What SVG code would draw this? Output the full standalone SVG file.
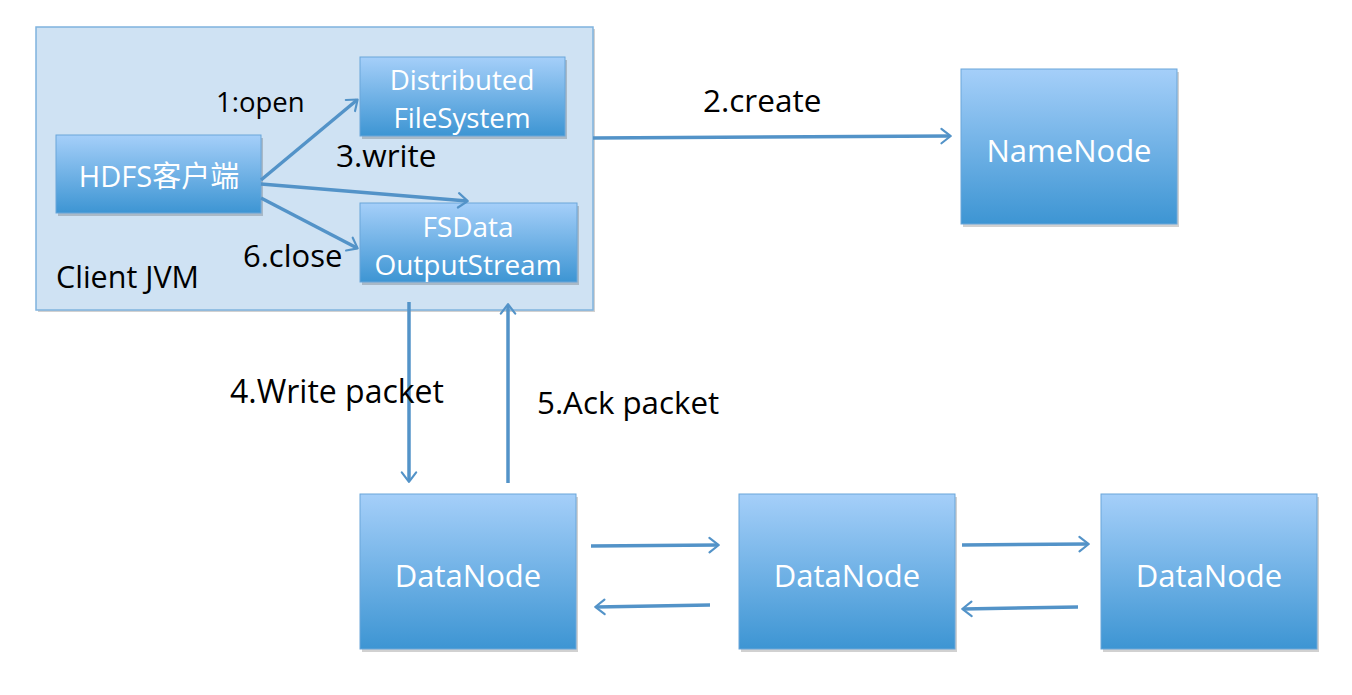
<svg xmlns="http://www.w3.org/2000/svg" width="1352" height="695" viewBox="0 0 1352 695">
<style>
.node{fill:url(#g);stroke:#6aa6d9;stroke-width:1}
.shadow{fill:#000;opacity:0.18}
.nt{font-family:"Open Sans","Noto Sans CJK SC",sans-serif;fill:#fff;text-anchor:middle}
.lbl{font-family:"Open Sans",sans-serif;fill:#000}
.conn line{stroke:#5393c8;stroke-width:3.5;marker-end:url(#ah)}
</style>
<defs>
<linearGradient id="g" x1="0" y1="0" x2="0" y2="1">
<stop offset="0" stop-color="#a5cff9"/>
<stop offset="1" stop-color="#3d95d3"/>
</linearGradient>
<marker id="ah" viewBox="0 0 10 10" refX="9" refY="5" markerWidth="6" markerHeight="6" markerUnits="userSpaceOnUse" orient="auto" overflow="visible">
<path d="M3,0 L9.5,5 L3,10" fill="none" stroke="#5393c8" stroke-width="1.5" stroke-linecap="round" stroke-linejoin="round" transform="scale(2.4) translate(-5.2,-2.9)"/>
</marker>
</defs>
<rect width="1352" height="695" fill="#fff"/>
<g id="client-jvm">
<rect x="38" y="29" width="557" height="283" class="shadow" opacity="0.12"/>
<rect x="36" y="27" width="557" height="283" fill="#cfe2f3" stroke="#7fb3de" stroke-width="1.5"/>
<text x="56" y="288" class="lbl" font-size="30.5">Client JVM</text>
</g>
<g id="hdfs-client">
<rect x="58" y="138" width="205" height="78" class="shadow"/>
<rect x="56" y="135" width="205" height="78" class="node"/>
<text x="159" y="187" class="nt" font-size="29">HDFS客户端</text>
</g>
<g id="dfs">
<rect x="362" y="60" width="205" height="79" class="shadow"/>
<rect x="360" y="57" width="205" height="79" class="node"/>
<text x="462" y="90" class="nt" font-size="27.7">Distributed</text>
<text x="462" y="128" class="nt" font-size="27.7">FileSystem</text>
</g>
<g id="fsdos">
<rect x="362" y="206" width="217" height="79" class="shadow"/>
<rect x="360" y="203" width="217" height="79" class="node"/>
<text x="468" y="237" class="nt" font-size="28">FSData</text>
<text x="468" y="275" class="nt" font-size="28">OutputStream</text>
</g>
<g id="namenode">
<rect x="963" y="72" width="216" height="155" class="shadow"/>
<rect x="961" y="69" width="216" height="155" class="node"/>
<text x="1069" y="162" class="nt" font-size="31">NameNode</text>
</g>
<g id="datanode1">
<rect x="362" y="497" width="216" height="155" class="shadow"/>
<rect x="360" y="494" width="216" height="155" class="node"/>
<text x="468" y="587" class="nt" font-size="31">DataNode</text>
</g>
<g id="datanode2">
<rect x="741" y="497" width="216" height="155" class="shadow"/>
<rect x="739" y="494" width="216" height="155" class="node"/>
<text x="847" y="587" class="nt" font-size="31">DataNode</text>
</g>
<g id="datanode3">
<rect x="1103" y="497" width="216" height="155" class="shadow"/>
<rect x="1101" y="494" width="216" height="155" class="node"/>
<text x="1209" y="587" class="nt" font-size="31">DataNode</text>
</g>
<g id="connectors" class="conn">
<line x1="261" y1="180" x2="357" y2="100"/>
<line x1="261" y1="184" x2="467" y2="201"/>
<line x1="261" y1="198" x2="357" y2="248"/>
<line x1="593" y1="138" x2="950" y2="136"/>
<line x1="409" y1="302" x2="409" y2="481"/>
<line x1="508" y1="483" x2="508" y2="305"/>
<line x1="591" y1="546" x2="718" y2="545"/>
<line x1="710" y1="605" x2="596" y2="607"/>
<line x1="962" y1="545" x2="1088" y2="544"/>
<line x1="1078" y1="607" x2="963" y2="609"/>
</g>
<g id="labels">
<text x="216" y="112" class="lbl" font-size="27.5">1:open</text>
<text x="336" y="167" class="lbl" font-size="31.5">3.write</text>
<text x="243" y="267" class="lbl" font-size="31">6.close</text>
<text x="703" y="112" class="lbl" font-size="31.5">2.create</text>
<text x="230" y="403" class="lbl" font-size="32">4.Write packet</text>
<text x="537" y="414" class="lbl" font-size="31.3">5.Ack packet</text>
</g>
</svg>
